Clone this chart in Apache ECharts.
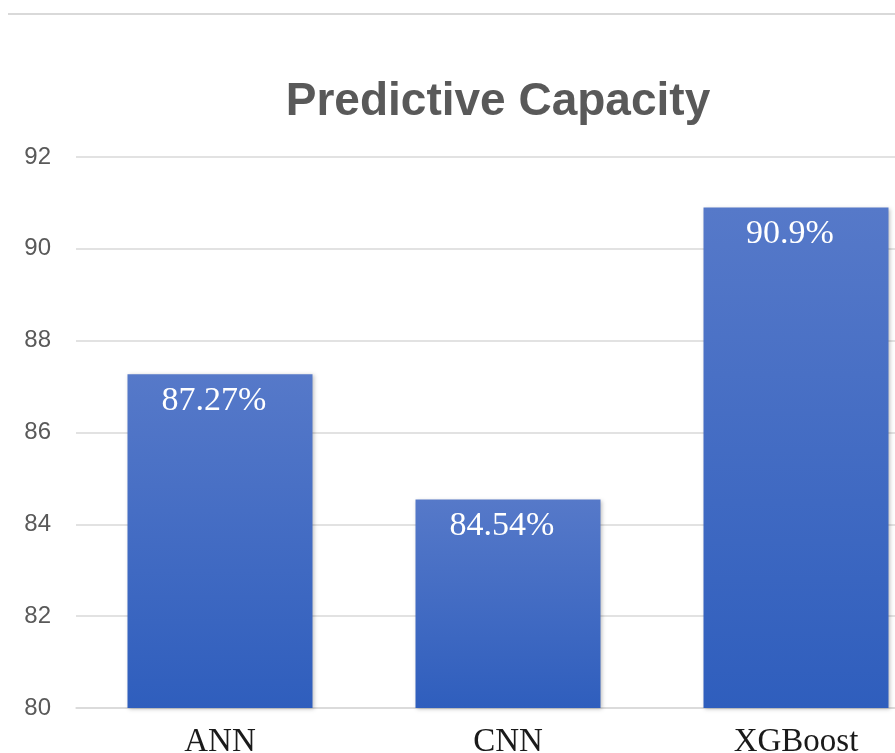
<!DOCTYPE html>
<html>
<head>
<meta charset="utf-8">
<script src="https://cdn.jsdelivr.net/npm/echarts@6/dist/echarts.min.js"></script>
<style>html,body{margin:0;padding:0;background:#fff}#main{width:895px;height:753px}</style>
</head>
<body>
<div id="main"></div>
<script>
var models = ['ANN', 'CNN', 'XGBoost'];
var capacity = [87.27, 84.54, 90.9];
var yTicks = [80, 82, 84, 86, 88, 90, 92];

var chart = echarts.init(document.getElementById('main'));
chart.setOption({
    backgroundColor: '#fff',
    animation: false,
    title: {
        text: 'Predictive Capacity', left: 493, top: 74, textAlign: 'center',
        textStyle: {fontFamily: 'Liberation Sans', fontWeight: 'bold', fontSize: 46, color: '#595959'}
    },
    graphic: [{type: 'line', shape: {x1: 8, y1: 14, x2: 895, y2: 14}, style: {stroke: '#d9d9d9', lineWidth: 2}}],
    // the original picture is cropped on the right, so the plot runs past the edge
    grid: {left: 76, width: 864, top: 157, bottom: 45, outerBoundsMode: 'none'},
    xAxis: {
        type: 'category', data: models,
        axisTick: {show: false},
        axisLine: {lineStyle: {color: '#d9d9d9', width: 1.5}},
        axisLabel: {fontFamily: 'Liberation Serif', fontSize: 33, color: '#1a1a1a', margin: 18}
    },
    yAxis: {
        type: 'value', min: yTicks[0], max: yTicks[yTicks.length - 1], interval: 2,
        axisLine: {show: false}, axisTick: {show: false},
        splitLine: {lineStyle: {color: '#d9d9d9', width: 1.5}},
        axisLabel: {fontFamily: 'Liberation Sans', fontSize: 24, color: '#595959', margin: 25}
    },
    series: [{
        type: 'bar', data: capacity, barWidth: 185,
        itemStyle: {
            color: new echarts.graphic.LinearGradient(0, 0, 0, 1, [
                {offset: 0, color: '#5679c9'}, {offset: 1, color: '#2f5ebd'}
            ]),
            shadowColor: 'rgba(0,0,0,0.25)', shadowBlur: 4, shadowOffsetX: 1, shadowOffsetY: 1
        },
        label: {
            show: true, position: 'insideTop', distance: 10, offset: [-6, 0],
            fontFamily: 'Liberation Serif', fontSize: 34, color: '#fff',
            formatter: function(p){return p.value + '%';}
        }
    }]
});
</script>
</body>
</html>
